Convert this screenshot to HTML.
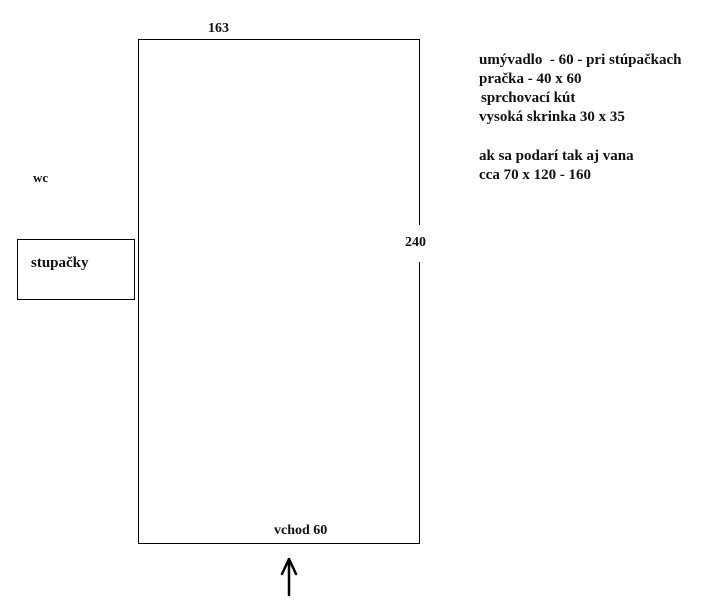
<!DOCTYPE html>
<html><head><meta charset="utf-8"><style>
html,body{margin:0;padding:0;background:#fff;width:705px;height:611px;overflow:hidden}
svg text{font-family:"Liberation Serif",serif;font-weight:bold;font-size:14px;fill:#111}
svg text.n{font-size:15px}
</style></head><body>
<svg width="705" height="611" viewBox="0 0 705 611" xmlns="http://www.w3.org/2000/svg">
<g stroke="#000" stroke-width="1" fill="none" shape-rendering="crispEdges">
<path d="M419.5 225 V39.5 H138.5 V543.5 H419.5 V262"/>
<rect x="17.5" y="239.5" width="117" height="60"/>
</g>
<g stroke="#000" stroke-width="2.5" fill="none" stroke-linecap="round" stroke-linejoin="round">
<path d="M289 595 V561"/>
<path d="M282 574 L289 559 L296 574"/>
</g>
<text x="208" y="32">163</text>
<text x="405" y="246">240</text>
<text x="33" y="182" style="font-size:13px">wc</text>
<text x="31" y="267" class="n">stupačky</text>
<text x="274" y="534">vchod 60</text>
<text class="n" x="479" y="64">umývadlo &#160;- 60 - pri stúpačkach</text>
<text class="n" x="479" y="83">pračka - 40 x 60</text>
<text class="n" x="481" y="102">sprchovací kút</text>
<text class="n" x="479" y="121">vysoká skrinka 30 x 35</text>
<text class="n" x="479" y="160">ak sa podarí tak aj vana</text>
<text class="n" x="479" y="179">cca 70 x 120 - 160</text>
</svg>
</body></html>
